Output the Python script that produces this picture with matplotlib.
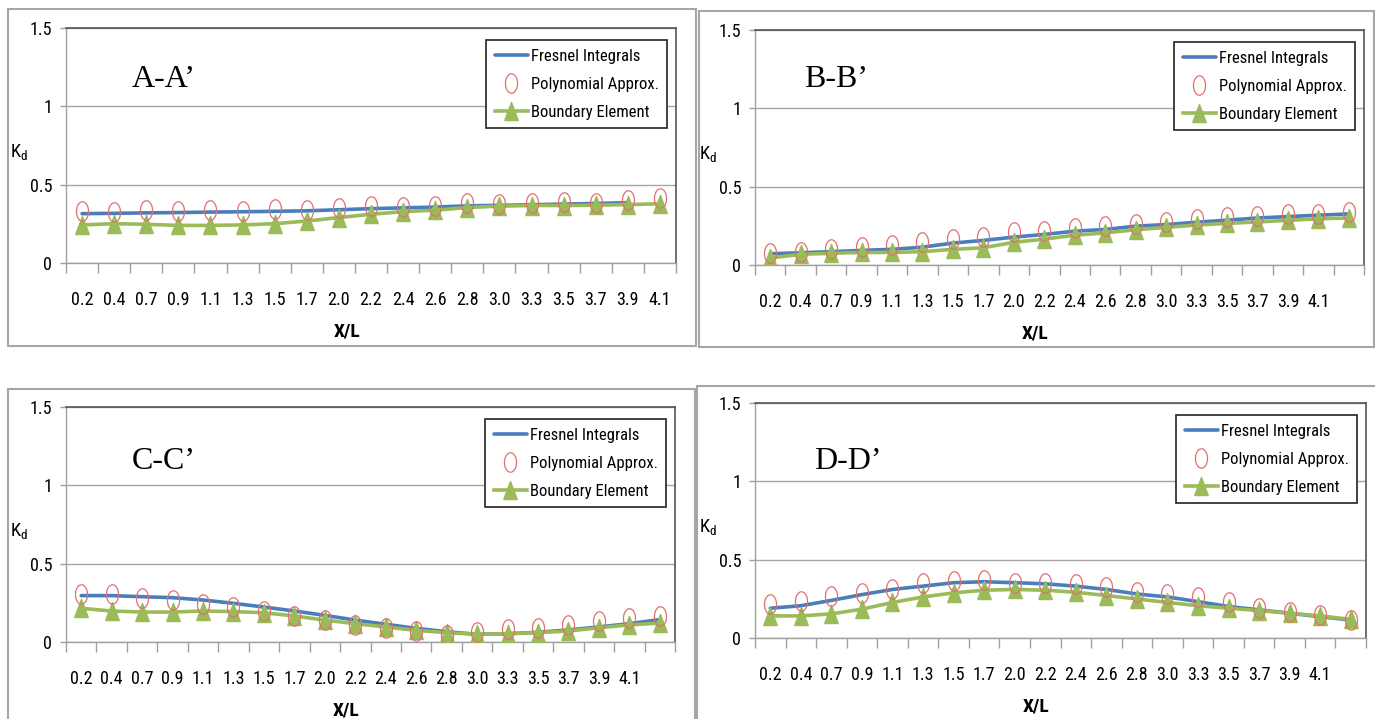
import matplotlib
matplotlib.use("Agg")
import matplotlib.pyplot as plt
import numpy as np
from matplotlib.patches import Rectangle

plt.rcParams['font.family'] = ['Roboto Condensed', 'Liberation Sans Narrow', 'DejaVu Sans']
plt.rcParams['font.stretch'] = 'condensed'

# ---------------- data ----------------
x_labels = ["0.2", "0.4", "0.7", "0.9", "1.1", "1.3", "1.5", "1.7", "2.0", "2.2",
            "2.4", "2.6", "2.8", "3.0", "3.3", "3.5", "3.7", "3.9", "4.1"]

# A-A'
a_fresnel = [0.315, 0.317, 0.320, 0.322, 0.325, 0.327, 0.330, 0.333, 0.340, 0.347,
             0.352, 0.357, 0.365, 0.368, 0.372, 0.376, 0.380, 0.385]
a_poly = [0.333, 0.328, 0.337, 0.333, 0.339, 0.333, 0.343, 0.339, 0.354, 0.365,
          0.358, 0.365, 0.380, 0.376, 0.384, 0.388, 0.384, 0.403, 0.414]
a_bem = [0.243, 0.251, 0.247, 0.240, 0.240, 0.243, 0.251, 0.268, 0.290, 0.311,
         0.328, 0.337, 0.354, 0.363, 0.367, 0.367, 0.369, 0.373, 0.378]

# B-B'
b_fresnel = [0.072, 0.078, 0.085, 0.093, 0.100, 0.114, 0.140, 0.157, 0.178, 0.195,
             0.216, 0.227, 0.248, 0.258, 0.273, 0.286, 0.300, 0.309, 0.318, 0.326]
b_poly = [0.078, 0.085, 0.105, 0.115, 0.125, 0.150, 0.168, 0.180, 0.208, 0.220,
          0.238, 0.250, 0.262, 0.275, 0.292, 0.308, 0.310, 0.325, 0.326, 0.340]
b_bem = [0.045, 0.068, 0.075, 0.080, 0.080, 0.085, 0.100, 0.110, 0.145, 0.165,
         0.190, 0.205, 0.225, 0.240, 0.255, 0.265, 0.275, 0.285, 0.295, 0.300]

# C-C'
c_fresnel = [0.296, 0.296, 0.289, 0.283, 0.268, 0.247, 0.223, 0.198, 0.170, 0.140,
             0.113, 0.087, 0.066, 0.049, 0.053, 0.062, 0.077, 0.096, 0.117, 0.143]
c_poly = [0.304, 0.304, 0.279, 0.268, 0.240, 0.223, 0.198, 0.166, 0.138, 0.106,
          0.091, 0.070, 0.045, 0.064, 0.081, 0.087, 0.109, 0.134, 0.155, 0.166]
c_bem = [0.215, 0.198, 0.191, 0.191, 0.198, 0.194, 0.187, 0.166, 0.140, 0.117,
         0.096, 0.074, 0.060, 0.049, 0.053, 0.060, 0.070, 0.091, 0.109, 0.121]

# D-D'
d_fresnel = [0.190, 0.206, 0.240, 0.277, 0.310, 0.331, 0.353, 0.359, 0.353, 0.346,
             0.331, 0.310, 0.281, 0.262, 0.232, 0.201, 0.180, 0.158, 0.136, 0.115]
d_poly = [0.219, 0.234, 0.266, 0.288, 0.314, 0.353, 0.364, 0.370, 0.353, 0.353,
          0.342, 0.327, 0.292, 0.284, 0.262, 0.227, 0.190, 0.169, 0.147, 0.115]
d_bem = [0.141, 0.141, 0.154, 0.184, 0.227, 0.262, 0.288, 0.305, 0.310, 0.305,
         0.292, 0.271, 0.249, 0.227, 0.206, 0.190, 0.175, 0.158, 0.141, 0.119]

series_names = ["Fresnel Integrals", "Polynomial Approx.", "Boundary Element"]
y_ticks = [0, 0.5, 1, 1.5]
y_tick_labels = ["0", "0.5", "1", "1.5"]

panels = [
    dict(title="A-A\u2019", n=19, fres=a_fresnel, poly=a_poly, bem=a_bem,
         rect=(66, 28, 676, 263), tpos=(0.108, 0.78)),
    dict(title="B-B\u2019", n=20, fres=b_fresnel, poly=b_poly, bem=b_bem,
         rect=(755, 30, 1364, 265), tpos=(0.080, 0.79)),
    dict(title="C-C\u2019", n=20, fres=c_fresnel, poly=c_poly, bem=c_bem,
         rect=(66, 407, 675, 642), tpos=(0.108, 0.77)),
    dict(title="D-D\u2019", n=20, fres=d_fresnel, poly=d_poly, bem=d_bem,
         rect=(755, 403, 1366, 638), tpos=(0.097, 0.75)),
]

# panel outer frames in pixels (x0, y0, x1, y1)
frames = [(8, 9, 696, 346), (699, 11, 1374, 347), (8, 389, 695, 725), (697, 386, 1380, 725)]

W, H = 1375, 719
fig = plt.figure(figsize=(W / 100, H / 100), dpi=100)

for (x0, y0, x1, y1) in frames:
    fig.patches.append(Rectangle((x0 / W, 1 - y1 / H), (x1 - x0) / W, (y1 - y0) / H,
                                 transform=fig.transFigure, fill=False,
                                 edgecolor="#A6A6A6", linewidth=1.5, zorder=0))

# custom markers: tall ellipse and tall triangle
t = np.linspace(0, 2 * np.pi, 60)
ellipse = list(zip(0.62 * np.cos(t), np.sin(t)))
tri = [(-0.75, -1.0), (0.75, -1.0), (0.0, 1.0), (-0.75, -1.0)]

BLUE = "#4A7EBB"
GREEN = "#9BBB59"
RED = "#E0706E"

for p in panels:
    l, tp, r, b = p["rect"]
    ax = fig.add_axes([l / W, 1 - b / H, (r - l) / W, (b - tp) / H])
    n = p["n"]
    xs_f = np.arange(len(p["fres"]))
    xs_p = np.arange(len(p["poly"]))
    xs_b = np.arange(len(p["bem"]))

    ax.plot(xs_f, p["fres"], color=BLUE, lw=2.6, solid_capstyle="round", zorder=3,
            label=series_names[0])
    ax.plot(xs_p, p["poly"], linestyle="none", marker=ellipse, markersize=14,
            markerfacecolor="none", markeredgecolor=RED, markeredgewidth=0.9, zorder=4,
            label=series_names[1])
    ax.plot(xs_b, p["bem"], color=GREEN, lw=2.6, marker=tri, markersize=13,
            markerfacecolor=GREEN, markeredgecolor=GREEN, zorder=3,
            label=series_names[2])

    ax.set_xlim(-0.5, n - 0.5)
    ax.set_ylim(0, 1.5)
    ax.set_yticks(y_ticks)
    ax.set_yticklabels(y_tick_labels)
    ax.set_xticks(np.arange(len(x_labels)))
    ax.set_xticklabels(x_labels)
    ax.set_xticks(np.arange(-0.5, n, 1.0), minor=True)
    ax.tick_params(axis="x", which="major", length=0, pad=20, labelsize=13)
    ax.tick_params(axis="x", which="minor", length=7, width=1, color="#A0A0A0", direction="out")
    ax.tick_params(axis="y", which="major", length=4, width=1, color="#A0A0A0",
                   direction="out", pad=6, labelsize=13)
    ax.yaxis.grid(True, color="#A6A6A6", linewidth=1.0)
    ax.set_axisbelow(True)
    for s in ("left", "bottom"):
        ax.spines[s].set_color("#A0A0A0")
        ax.spines[s].set_linewidth(1.0)
    for s in ("top", "right"):
        ax.spines[s].set_color("#555555")
        ax.spines[s].set_linewidth(1.2)

    ax.text(p["tpos"][0], p["tpos"][1], p["title"], transform=ax.transAxes,
            fontsize=23, family="Liberation Serif", fontstretch="normal",
            ha="left", va="center")
    ax.text(-0.077, 0.47, r"K$_{\mathregular{d}}$", transform=ax.transAxes,
            fontsize=13.5, ha="center", va="center")
    ax.text(0.46, -0.29, "X/L", transform=ax.transAxes, fontsize=14,
            fontweight="bold", ha="center", va="center")

    leg = ax.legend(loc="upper right", bbox_to_anchor=(0.985, 0.948), borderaxespad=0,
                    frameon=True, fancybox=False, fontsize=12, handlelength=2.0,
                    handletextpad=0.15, labelspacing=0.78, borderpad=0.5)
    fr = leg.get_frame()
    fr.set_edgecolor("#222222")
    fr.set_linewidth(1.2)
    fr.set_facecolor("white")
    fr.set_alpha(1)
    leg.set_zorder(10)

fig.savefig("out.png", dpi=100)
